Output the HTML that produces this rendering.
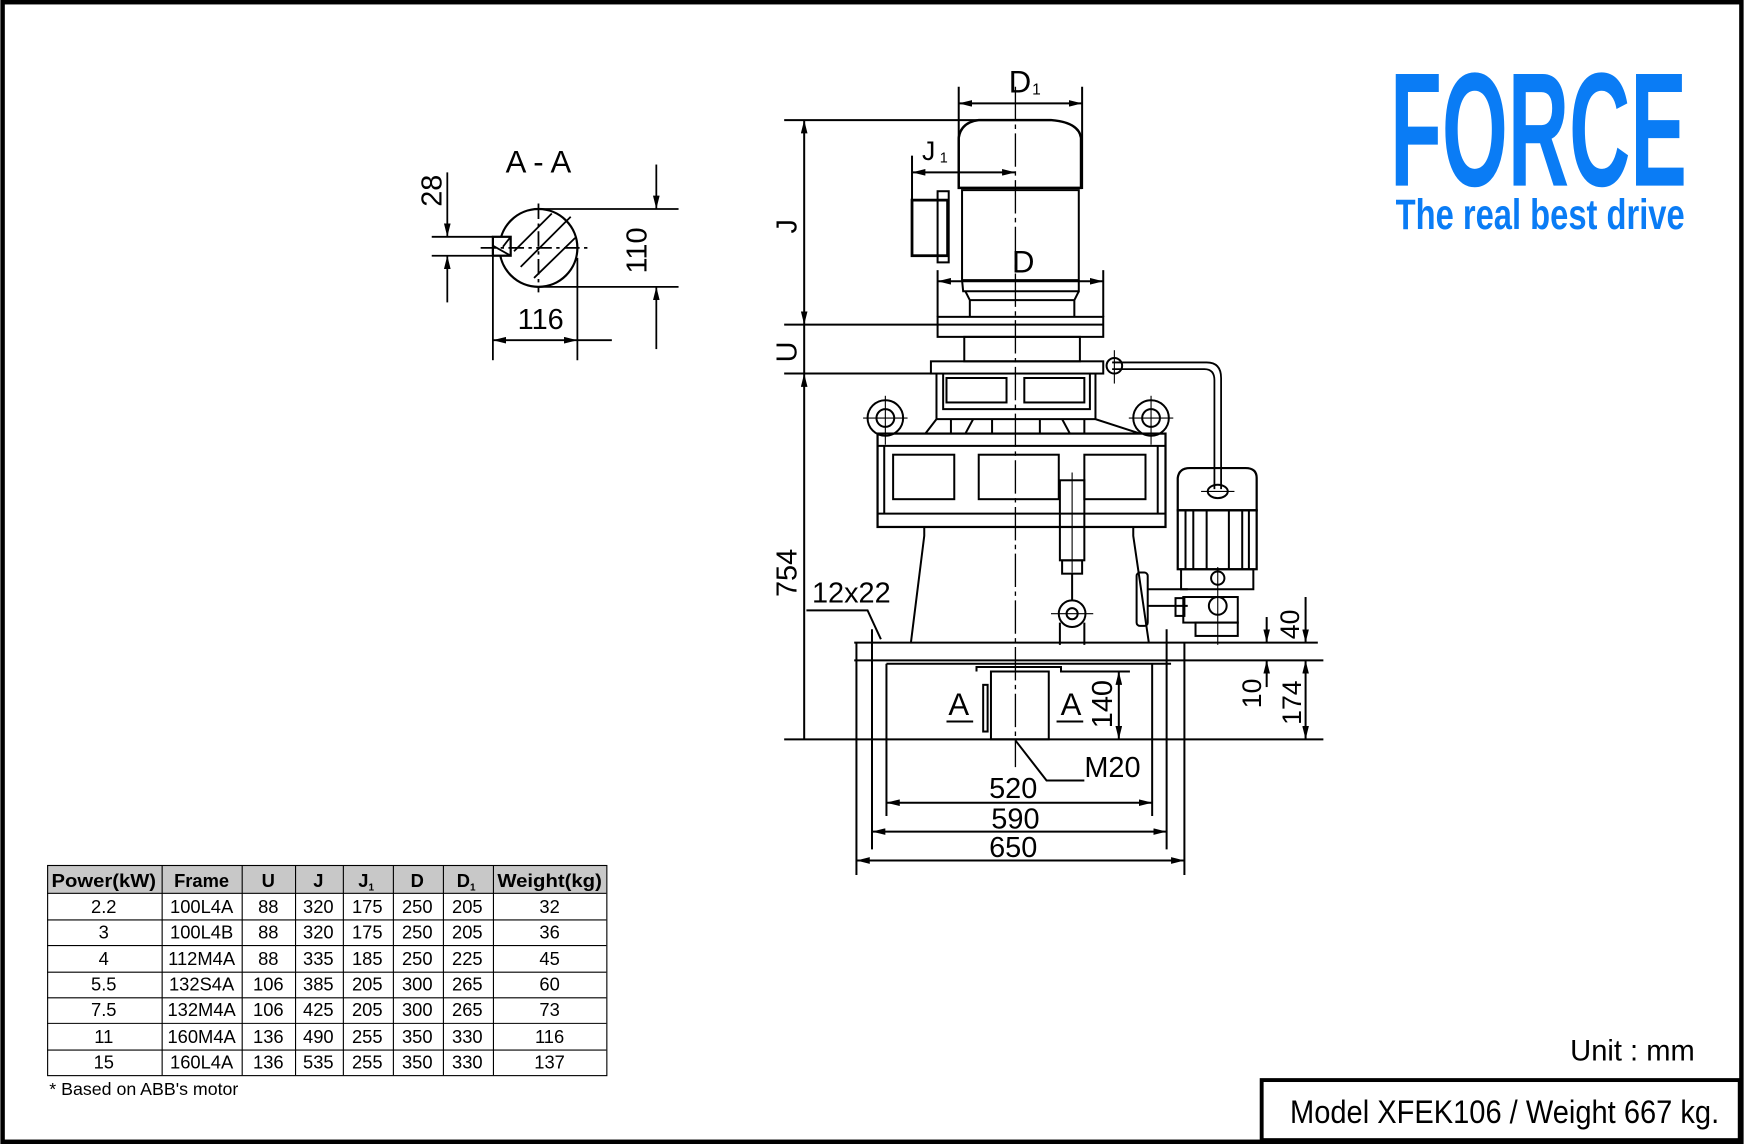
<!DOCTYPE html>
<html><head><meta charset="utf-8"><style>
html,body{margin:0;padding:0;background:#fff;}
svg{display:block;}
text{font-family:"Liberation Sans",Arial,sans-serif;fill:#000;}
</style></head><body>
<svg width="1744" height="1144" viewBox="0 0 1568 1029" xmlns="http://www.w3.org/2000/svg">
<defs>
<marker id="a" viewBox="0 0 12 6" refX="12" refY="3" markerWidth="12" markerHeight="6" orient="auto-start-reverse" markerUnits="userSpaceOnUse"><path d="M0,0 L12,3 L0,6 z" fill="#000"/></marker>
</defs>
<rect x="2" y="2" width="1564" height="1025" fill="#fff" stroke="#000" stroke-width="4"/>

<!-- Logo -->
<text x="1250" y="167" font-size="146" font-weight="bold" style="fill:#0a7cf5" textLength="267" lengthAdjust="spacingAndGlyphs">FORCE</text>
<text x="1255" y="206" font-size="38" font-weight="bold" style="fill:#0a7cf5" textLength="260" lengthAdjust="spacingAndGlyphs">The real best drive</text>

<!-- A-A section -->
<g stroke="#000" stroke-width="1.6" fill="none">
<text x="484" y="155" font-size="28" text-anchor="middle" stroke="none">A - A</text>
<circle cx="484" cy="223" r="35" stroke-width="2"/>
<rect x="443" y="213" width="16" height="17" fill="#fff" stroke-width="2"/>
<line x1="459" y1="213" x2="452" y2="222"/>
<line x1="443" y1="221" x2="459" y2="230"/>
<path d="M462,226 L496,192 M468,240 L513,195 M480,250 L517,214"/>
<line x1="484" y1="183" x2="484" y2="263" stroke-dasharray="14,4,3,4"/>
<line x1="432" y1="223" x2="532" y2="223" stroke-dasharray="14,4,3,4"/>
<line x1="388" y1="213" x2="443" y2="213"/><line x1="388" y1="230" x2="443" y2="230"/>
<line x1="402" y1="155" x2="402" y2="213" marker-end="url(#a)"/>
<line x1="402" y1="272" x2="402" y2="230" marker-end="url(#a)"/>
<text x="0" y="0" font-size="26" stroke="none" transform="translate(397,186) rotate(-90)">28</text>
<line x1="484" y1="188" x2="610" y2="188"/><line x1="484" y1="258" x2="610" y2="258"/>
<line x1="590" y1="148" x2="590" y2="188" marker-end="url(#a)"/>
<line x1="590" y1="314" x2="590" y2="258" marker-end="url(#a)"/>
<text x="0" y="0" font-size="26" stroke="none" transform="translate(581,246) rotate(-90)">110</text>
<line x1="443" y1="230" x2="443" y2="324"/><line x1="519" y1="232" x2="519" y2="324"/>
<line x1="443" y1="306" x2="519" y2="306" marker-start="url(#a)" marker-end="url(#a)"/>
<line x1="519" y1="306" x2="550" y2="306"/>
<text x="486" y="296" font-size="26" text-anchor="middle" stroke="none">116</text>
</g>

<!-- Main drawing -->
<g stroke="#000" stroke-width="1.8" fill="none">
<line x1="913" y1="78" x2="913" y2="690" stroke-width="1.2" stroke-dasharray="30,4,4,4"/>
<path d="M862,169 L862,124 Q864,110 880,108 L945,108 Q970,110 972,124 L972,169 Z" stroke-width="2.2"/>
<path d="M865,171 L970,171 L970,252 L865,252 Z"/>
<path d="M865,252 L866,262 L970,262 L970,252"/>
<path d="M868,262 L872,270 L966,270 L970,262 M872,270 L872,285 M966,270 L966,285"/>
<rect x="843" y="285" width="149" height="18"/>
<line x1="843" y1="292" x2="992" y2="292"/>
<rect x="867" y="303" width="104" height="22"/>
<rect x="820" y="180" width="32" height="50" stroke-width="2.5"/>
<rect x="843" y="172" width="10" height="64"/>
<line x1="862" y1="78" x2="862" y2="169"/><line x1="973" y1="78" x2="973" y2="170"/>
<line x1="862" y1="93" x2="973" y2="93" marker-start="url(#a)" marker-end="url(#a)"/>
<text x="907" y="83" font-size="28" stroke="none">D</text><text x="928" y="85" font-size="14" stroke="none">1</text>
<line x1="820" y1="140" x2="820" y2="180"/>
<line x1="820" y1="155" x2="913" y2="155" marker-start="url(#a)" marker-end="url(#a)"/>
<text x="829" y="144" font-size="24" stroke="none">J</text><text x="845" y="146" font-size="13" stroke="none">1</text>
<line x1="843" y1="243" x2="843" y2="285"/><line x1="992" y1="243" x2="992" y2="285"/>
<line x1="843" y1="253" x2="992" y2="253" marker-start="url(#a)" marker-end="url(#a)"/>
<text x="920" y="245" font-size="28" text-anchor="middle" stroke="none">D</text>
<line x1="705" y1="108" x2="945" y2="108"/>
<line x1="705" y1="292" x2="843" y2="292"/>
<line x1="705" y1="336" x2="837" y2="336"/>
<line x1="723" y1="108" x2="723" y2="292" marker-start="url(#a)" marker-end="url(#a)"/>
<line x1="723" y1="292" x2="723" y2="336"/>
<line x1="723" y1="336" x2="723" y2="665" marker-start="url(#a)"/>
<text x="0" y="0" font-size="26" stroke="none" transform="translate(716,210) rotate(-90)">J</text>
<text x="0" y="0" font-size="26" stroke="none" transform="translate(716,326) rotate(-90)">U</text>
<text x="0" y="0" font-size="26" stroke="none" transform="translate(716,537) rotate(-90)">754</text>
<rect x="837" y="325" width="155" height="11"/>
<path d="M842,336 L842,377 M985,336 L985,377 M848,336 L848,368 L980,368 L980,336"/>
<rect x="851" y="340" width="54" height="22"/>
<rect x="921" y="340" width="54" height="22"/>
<path d="M832,390 L842,377 L985,377 L1025,390"/>
<path d="M855,377 L855,390 M875,377 L868,390 M892,377 L892,390 M935,377 L935,390 M955,377 L962,390 M975,377 L975,390"/>
<circle cx="796" cy="376" r="16"/><circle cx="796" cy="376" r="8"/>
<line x1="776" y1="376" x2="816" y2="376" stroke-width="1"/><line x1="796" y1="356" x2="796" y2="400" stroke-width="1"/>
<circle cx="1035" cy="376" r="16"/><circle cx="1035" cy="376" r="8"/>
<line x1="1015" y1="376" x2="1055" y2="376" stroke-width="1"/><line x1="1035" y1="356" x2="1035" y2="400" stroke-width="1"/>
<rect x="789" y="390" width="259" height="84" stroke-width="2"/>
<path d="M789,401 L1048,401 M789,462 L1048,462 M795,401 L795,462 M1041,401 L1041,462"/>
<rect x="803" y="409" width="55" height="40"/>
<rect x="880" y="409" width="72" height="40"/>
<rect x="975" y="409" width="55" height="40"/>
<path d="M831,474 L831,482 L819,578 M1019,474 L1019,482 L1033,578"/>
<rect x="953" y="432" width="22" height="72"/>
<line x1="964" y1="425" x2="964" y2="515" stroke-width="1"/>
<rect x="955" y="504" width="18" height="12"/>
<line x1="964" y1="516" x2="964" y2="540"/>
<circle cx="964" cy="552" r="12"/><circle cx="964" cy="552" r="5"/>
<line x1="945" y1="552" x2="983" y2="552" stroke-width="1"/>
<path d="M953,560 L953,580 M975,560 L975,580"/>
<rect x="1022" y="515" width="10" height="48" rx="3"/>
<path d="M1032,530 L1068,530 M1032,545 L1068,545"/>
<path d="M1000,326 L1085,326 Q1098,326 1098,340 L1098,440 M1000,332 L1083,332 Q1092,332 1092,342 L1092,440" stroke-width="1.6"/>
<circle cx="1002" cy="329" r="7"/>
<line x1="1002" y1="315" x2="1002" y2="345" stroke-width="1"/>
<path d="M1059,459 L1059,430 Q1060,421 1070,421 L1120,421 Q1130,421 1130,430 L1130,459 Z" stroke-width="2"/>
<rect x="1059" y="459" width="71" height="53" stroke-width="2"/>
<path d="M1066,459 L1066,512 M1073,459 L1073,512 M1085,459 L1085,512 M1105,459 L1105,512 M1117,459 L1117,512 M1123,459 L1123,512"/>
<path d="M1062,512 L1127,512 L1127,530 L1062,530 Z"/>
<ellipse cx="1095" cy="442" rx="9" ry="6"/>
<line x1="1080" y1="442" x2="1110" y2="442" stroke-width="1"/>
<rect x="1064" y="537" width="49" height="23"/>
<rect x="1075" y="560" width="38" height="12"/>
<circle cx="1095" cy="520" r="6"/><circle cx="1095" cy="545" r="8"/>
<rect x="1057" y="538" width="8" height="16"/>
<line x1="1095" y1="510" x2="1095" y2="580" stroke-width="1"/>
<line x1="768" y1="578" x2="1185" y2="578"/>
<line x1="768" y1="594" x2="1190" y2="594"/>
<line x1="797" y1="597" x2="1053" y2="597"/>
<path d="M878,604 L878,600 L954,600 L954,604 L1016,604"/>
<rect x="891" y="604" width="52" height="61"/>
<rect x="884" y="616" width="4" height="42"/>
<line x1="705" y1="665" x2="1190" y2="665"/>
<line x1="770" y1="578" x2="770" y2="787"/>
<line x1="784" y1="566" x2="784" y2="764"/>
<line x1="797" y1="597" x2="797" y2="734"/>
<line x1="1036" y1="597" x2="1036" y2="734"/>
<line x1="1049" y1="566" x2="1049" y2="764"/>
<line x1="1065" y1="578" x2="1065" y2="787"/>
<line x1="797" y1="722" x2="1036" y2="722" marker-start="url(#a)" marker-end="url(#a)"/>
<line x1="784" y1="748" x2="1049" y2="748" marker-start="url(#a)" marker-end="url(#a)"/>
<line x1="770" y1="774" x2="1065" y2="774" marker-start="url(#a)" marker-end="url(#a)"/>
<text x="911" y="718" font-size="26" text-anchor="middle" stroke="none">520</text>
<text x="913" y="745" font-size="26" text-anchor="middle" stroke="none">590</text>
<text x="911" y="771" font-size="26" text-anchor="middle" stroke="none">650</text>
<path d="M913,666 L941,702 L975,702"/>
<text x="975" y="699" font-size="26" stroke="none">M20</text>
<text x="862" y="643" font-size="28" text-anchor="middle" stroke="none">A</text>
<line x1="851" y1="649" x2="875" y2="649"/>
<text x="963" y="643" font-size="28" text-anchor="middle" stroke="none">A</text>
<line x1="950" y1="649" x2="974" y2="649"/>
<line x1="1006" y1="604" x2="1006" y2="665" marker-start="url(#a)" marker-end="url(#a)"/>
<text x="0" y="0" font-size="26" stroke="none" transform="translate(1000,655) rotate(-90)">140</text>
<line x1="1139" y1="555" x2="1139" y2="578" marker-end="url(#a)"/>
<line x1="1139" y1="618" x2="1139" y2="594" marker-end="url(#a)"/>
<text x="0" y="0" font-size="24" stroke="none" transform="translate(1134,637) rotate(-90)">10</text>
<line x1="1174" y1="537" x2="1174" y2="578" marker-end="url(#a)"/>
<line x1="1174" y1="594" x2="1174" y2="665" marker-start="url(#a)" marker-end="url(#a)"/>
<text x="0" y="0" font-size="24" stroke="none" transform="translate(1168,575) rotate(-90)">40</text>
<text x="0" y="0" font-size="24" stroke="none" transform="translate(1170,652) rotate(-90)">174</text>
<text x="730" y="542" font-size="26" stroke="none">12x22</text>
<path d="M725,549 L780,549 L792,575"/>
</g>

<!-- Table -->
<g font-size="16.5">
<rect x="42" y="778" width="503" height="25" fill="#c8c8c8"/>
<g stroke="#000" stroke-width="1" fill="none">
<rect x="42.5" y="778.5" width="503" height="189"/>
<path d="M42,803.5H545M42,827.5H545M42,850.5H545M42,874.5H545M42,897.5H545M42,920.5H545M42,944.5H545"/>
<path d="M145.5,778V967M217.5,778V967M265.5,778V967M308.5,778V967M353.5,778V967M398.5,778V967M443.5,778V967"/>
</g>
<g font-weight="bold" text-anchor="middle">
<text x="93" y="798" textLength="94" lengthAdjust="spacingAndGlyphs">Power(kW)</text><text x="181" y="798">Frame</text><text x="241" y="798">U</text><text x="286" y="798">J</text>
<text x="329" y="798">J<tspan font-size="9" dy="3">1</tspan></text><text x="375" y="798">D</text>
<text x="419" y="798">D<tspan font-size="9" dy="3">1</tspan></text><text x="494" y="798" textLength="94" lengthAdjust="spacingAndGlyphs">Weight(kg)</text>
</g>
<g text-anchor="middle">
<text x="93" y="821">2.2</text><text x="181" y="821">100L4A</text><text x="241" y="821">88</text><text x="286" y="821">320</text><text x="330" y="821">175</text><text x="375" y="821">250</text><text x="420" y="821">205</text><text x="494" y="821">32</text>
<text x="93" y="844">3</text><text x="181" y="844">100L4B</text><text x="241" y="844">88</text><text x="286" y="844">320</text><text x="330" y="844">175</text><text x="375" y="844">250</text><text x="420" y="844">205</text><text x="494" y="844">36</text>
<text x="93" y="868">4</text><text x="181" y="868">112M4A</text><text x="241" y="868">88</text><text x="286" y="868">335</text><text x="330" y="868">185</text><text x="375" y="868">250</text><text x="420" y="868">225</text><text x="494" y="868">45</text>
<text x="93" y="891">5.5</text><text x="181" y="891">132S4A</text><text x="241" y="891">106</text><text x="286" y="891">385</text><text x="330" y="891">205</text><text x="375" y="891">300</text><text x="420" y="891">265</text><text x="494" y="891">60</text>
<text x="93" y="914">7.5</text><text x="181" y="914">132M4A</text><text x="241" y="914">106</text><text x="286" y="914">425</text><text x="330" y="914">205</text><text x="375" y="914">300</text><text x="420" y="914">265</text><text x="494" y="914">73</text>
<text x="93" y="938">11</text><text x="181" y="938">160M4A</text><text x="241" y="938">136</text><text x="286" y="938">490</text><text x="330" y="938">255</text><text x="375" y="938">350</text><text x="420" y="938">330</text><text x="494" y="938">116</text>
<text x="93" y="961">15</text><text x="181" y="961">160L4A</text><text x="241" y="961">136</text><text x="286" y="961">535</text><text x="330" y="961">255</text><text x="375" y="961">350</text><text x="420" y="961">330</text><text x="494" y="961">137</text>
</g>
<text x="44" y="985" font-size="16">* Based on ABB's motor</text>
</g>

<text x="1412" y="954" font-size="27" textLength="112" lengthAdjust="spacingAndGlyphs">Unit : mm</text>
<rect x="1134.5" y="971.5" width="430" height="54" fill="#fff" stroke="#000" stroke-width="3.5"/>
<text x="1160" y="1010" font-size="29" textLength="386" lengthAdjust="spacingAndGlyphs">Model XFEK106 / Weight 667 kg.</text>
</svg>
</body></html>
